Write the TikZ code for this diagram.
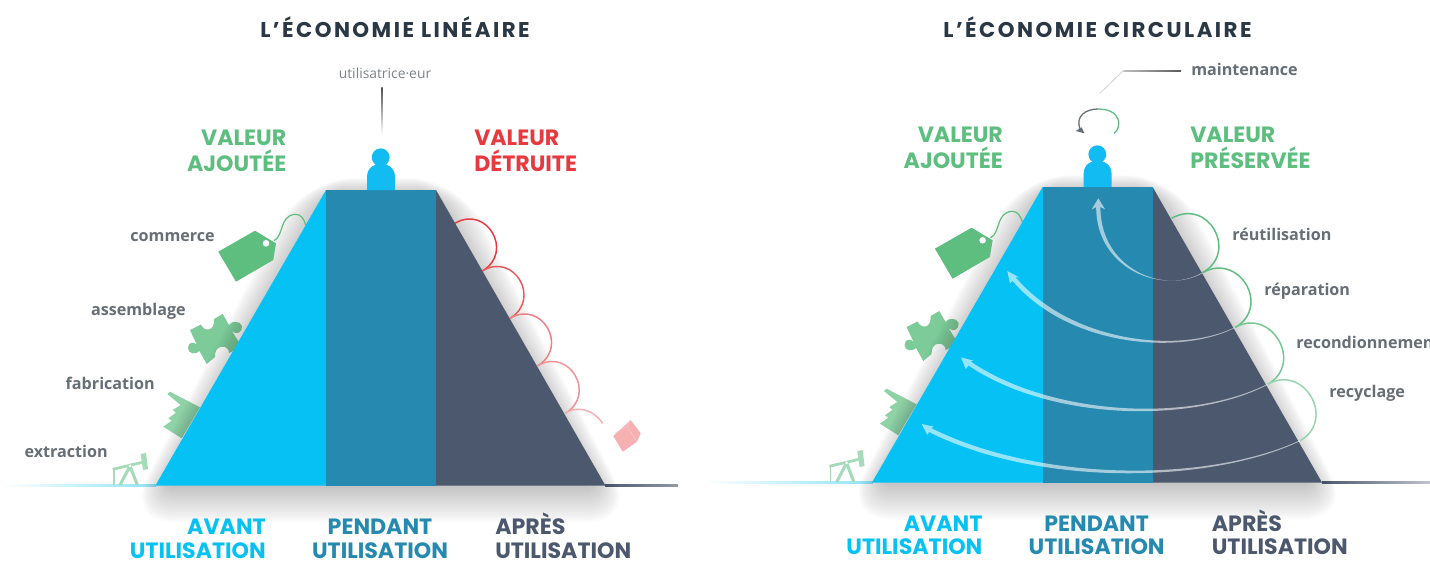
\documentclass[tikz,border=0pt]{standalone}
\usepackage{fontspec}
\setmainfont{Open Sans}
\newfontfamily\headf{Poppins}
\newfontfamily\titlef[LetterSpace=11.5]{Poppins}
\usetikzlibrary{calc}
\definecolor{cyanp}{HTML}{06C1F4}
\definecolor{tealp}{HTML}{268AB0}
\definecolor{darkp}{HTML}{4B586E}
\definecolor{personc}{HTML}{12BCF3}
\definecolor{greenv}{HTML}{5DBE7F}
\definecolor{redv}{HTML}{E8393F}
\definecolor{labelc}{HTML}{666E76}
\definecolor{titlec}{HTML}{2A3744}
\tikzset{
  titletext/.style={font=\titlef\bfseries\fontsize{16}{18}\selectfont,text=titlec,inner sep=0pt},
  headtext/.style={font=\headf\bfseries\fontsize{16.6}{19}\selectfont,inner sep=0pt},
  foottext/.style={font=\headf\bfseries\fontsize{16.6}{17.6}\selectfont,inner sep=0pt},
  steplabel/.style={font=\bfseries\fontsize{12.1}{14}\selectfont,text=labelc,inner sep=0pt},
  arrowbody/.style={fill=white,fill opacity=.58},
  shadowlayer/.style={fill=black!80,fill opacity=.017},
}
% tapered translucent arrow: start, c1, c2, notch, offset, barb+, tip, barb-
\newcommand{\taperarrow}[8]{%
  \fill[arrowbody] ($(#1)+.3*(#5)$) .. controls ($(#2)+.4*(#5)$) and ($(#3)+(#5)$) .. ($(#4)+(#5)$) -- (#6) -- (#7) -- (#8)
    -- ($(#4)-(#5)$) .. controls ($(#3)-(#5)$) and ($(#2)-.4*(#5)$) .. ($(#1)-.3*(#5)$) -- cycle;}
\newcommand{\pyramid}[1]{%
  % icons that the shadow falls on
  \fill[greenv!80!white] (190,330) -- (201,324.5) .. controls (204,332) and (215,332) .. (214,319) -- (222.7,314) -- (229,325)
     .. controls (231,321) and (240,320) .. (242,326) .. controls (243,332) and (236,336) .. (232,331)
     -- (241.7,346.7) -- (229,353) .. controls (229,344) and (214,344) .. (215,357) -- (206.7,364) -- (199.5,351)
     .. controls (196,355) and (188,354) .. (188,348) .. controls (188,342) and (194,341) .. (197,345) -- cycle;
  \fill[greenv!70!white] (167.3,394) -- (170,391.7) -- (200,407.3) -- (181.7,438.3) -- (163.3,426.7) -- (171.7,420.7) -- (168.3,418.3) -- (176,412.7) -- (172.7,410) -- (180.7,405) -- cycle;
  \draw[greenv!55!white,line width=2.1pt] (112.7,469.3) -- (145,461.7);
  \fill[greenv!55!white] (140.7,454) -- (146,453) -- (148,469) -- (143,470) -- cycle;
  \draw[greenv!55!white,line width=2.3pt] (130,466) -- (120,485) (130,466) -- (137.3,485);
  \draw[greenv!55!white,line width=.9pt] (114,470) -- (114,485);
  \fill[white] (130,466) circle[radius=1.6];
  % soft shadow
  \foreach \e [evaluate=\e as \r using .8*\e+4] in {0,2,...,42}{
    \fill[shadowlayer,rounded corners=\r pt] ($(170,480)+(-1.1*\e,\e)$) -- ($(333,197)+(-.7*\e,-.45*\e)$) -- ($(429,197)+(.7*\e,-.45*\e)$) -- ($(591,480)+(1.1*\e,\e)$) -- cycle;
  }
  % price tag, clear of the shadow
  \fill[greenv] (218.3,251.7) -- (255,230.7) -- (276,243.3) -- (273.3,260) -- (236,281.7) -- cycle;
  \fill[white] (266,243.3) circle[radius=3.3];
  \draw[greenv,line width=.9pt] (274,240.7) .. controls (284,236) and (279,216) .. (295,214.3) .. controls (301,214) and (304,219) .. (305.7,225);
  % pyramid
  \coordinate (#1bl) at (155.3,485.7);
  \coordinate (#1tl) at (326,190);
  \coordinate (#1tr) at (436,190);
  \coordinate (#1br) at (605.5,485.7);
  \fill[cyanp] (#1bl) -- (#1tl) -- (327,190) -- (327,485.7) -- cycle;
  \fill[darkp] (435,190) -- (#1tr) -- (#1br) -- (435,485.7) -- cycle;
  \fill[tealp] (#1tl) -- (#1tr) -- (436,485.7) -- (326,485.7) -- cycle;
  % person
  \node[circle,fill=personc,minimum size=13.4pt,inner sep=0pt] (#1head) at (380.7,157.3) {};
  \fill[personc] (367,190) -- (367,177) .. controls (367,159) and (395,159) .. (395,177) -- (395,190) -- cycle;
  % bottom labels
  \node[foottext,text=cyanp,align=right,anchor=base east] (#1avant) at (266,\bottomy) {AVANT\\UTILISATION};
  \node[foottext,text=tealp,align=center,anchor=base] (#1pendant) at (380,\bottomy) {PENDANT\\UTILISATION};
  \node[foottext,text=darkp,align=left,anchor=base west] (#1apres) at (495,\bottomy) {APRÈS\\UTILISATION};
  \node[headtext,text=greenv,align=right,anchor=base east] (#1ajout) at (286.5,171) {VALEUR\\AJOUTÉE};
}
\begin{document}
\begin{tikzpicture}[x=.75pt,y=-.75pt]
\useasboundingbox (0,0) rectangle (1430,561);
\fill[white] (0,0) rectangle (1430,561);
% ---- LEFT
\shade[left color=white,right color=cyanp!45!white] (0,484) rectangle (156,486);
\shade[left color=darkp,right color=darkp!60!white] (605,484) rectangle (678,486);
\def\bottomy{558}
\pyramid{a}
\node[titletext,anchor=base] (titleA) at (395,37.7) {L’ÉCONOMIE LINÉAIRE};
\node[font=\fontsize{10.4}{13}\selectfont,text=labelc!85!white,inner sep=0pt,anchor=base] (user) at (385,78.3) {utilisatrice·eur};
\coordinate (ua) at (382,87);
\coordinate (ub) at (382,134);
\shade[top color=black!70,bottom color=white] ($(ua)+(-.7,0)$) rectangle ($(ub)+(.7,0)$);
\node[headtext,text=redv,align=left,anchor=base west] (detruit) at (474,171) {VALEUR\\DÉTRUITE};
\node[steplabel,anchor=base east] (commerce) at (215,241) {commerce};
\node[steplabel,anchor=base east] (assemblage) at (186,315) {assemblage};
\node[steplabel,anchor=base east] (fabrication) at (155,389) {fabrication};
\node[steplabel,anchor=base east] (extraction) at (108,457.3) {extraction};
\coordinate (P0) at (455,223.3);
\coordinate (P1) at (482.6,270.8);
\coordinate (P2) at (510,318.3);
\coordinate (P3) at (537.6,365.8);
\coordinate (P4) at (565.3,413.3);
\coordinate (Pe) at (602.7,423.3);
\draw[line width=1.1pt,color=redv] (P0) .. controls ($(P0)+(31.6,-18.9)$) and ($(P1)+(31.6,-18.9)$) .. (P1);
\draw[line width=1.1pt,color=redv!85!white] (P1) .. controls ($(P1)+(31.6,-18.9)$) and ($(P2)+(31.6,-18.9)$) .. (P2);
\draw[line width=1.1pt,color=redv!65!white] (P2) .. controls ($(P2)+(31.6,-18.9)$) and ($(P3)+(31.6,-18.9)$) .. (P3);
\draw[line width=1.1pt,color=redv!55!white] (P3) .. controls ($(P3)+(31.6,-18.9)$) and ($(P4)+(31.6,-18.9)$) .. (P4);
\draw[line width=1.1pt,color=redv!40!white] (P4) .. controls (576,406) and (592,408) .. (Pe);
\fill[redv!40!white] (613.3,436) -- (630.7,420) -- (640.7,433.3) -- (637,441.7) -- (622.7,451.7) -- cycle;
\draw[redv!28!white,line width=.4pt] (626.7,426) -- (615,433.3) (626.7,426) -- (630.7,420) (626.7,426) -- (637,441.7);
% ---- RIGHT
\shade[left color=white,right color=cyanp!45!white] (703,481) rectangle (873,483);
\shade[left color=darkp,right color=darkp!35!white] (1322,481) rectangle (1430,483);
\begin{scope}[shift={(716.6,-3)}]
\def\bottomy{557.5}
\pyramid{b}
\end{scope}
\node[titletext,anchor=base] (titleB) at (1097.5,37.7) {L’ÉCONOMIE CIRCULAIRE};
\node[headtext,text=greenv,align=left,anchor=base west] (preserve) at (1190,168) {VALEUR\\PRÉSERVÉE};
\node[steplabel,anchor=base west] (maint) at (1191,75) {maintenance};
\coordinate (m1) at (1181,70.7);
\coordinate (m2) at (1123.3,70.7);
\coordinate (m3) at (1100,93.3);
\shade[left color=black!25,right color=black!65] ($(m2)+(0,-.6)$) rectangle ($(m1)+(0,.6)$);
\draw[black!18,line width=.6pt] (m2) -- (m3);
\coordinate (c0) at (1114,133.3);
\coordinate (c1) at (1098,109);
\coordinate (c2) at (1080,129);
\draw[greenv,line width=.95pt] (c0) .. controls (1122,128) and (1122,109) .. (c1);
\draw[labelc,line width=.95pt] (c1) .. controls (1086,109) and (1075,116) .. (c2);
\fill[labelc] (1075.7,131) -- (1081.7,127.3) -- (1084.3,133.3) -- cycle;
\node[steplabel,anchor=base west] (reut) at (1232,240) {réutilisation};
\node[steplabel,anchor=base west] (repa) at (1264,295) {réparation};
\node[steplabel,anchor=base west] (recond) at (1296,348.3) {recondionnement};
\node[steplabel,anchor=base west] (recy) at (1329,397.7) {recyclage};
\coordinate (Q0) at (1171.7,218.3);
\coordinate (Q1) at (1202.5,272.7);
\coordinate (Q2) at (1235,327.5);
\coordinate (Q3) at (1267.7,384.3);
\coordinate (Q4) at (1300,440.7);
% translucent arrows
\taperarrow{Q4}{1210,483}{1040,485}{930,430}{1,-2}{934,426.7}{921.7,424}{927.3,435}
\taperarrow{Q3}{1190,424}{1050,418}{969.5,363.5}{1,-2}{973.3,360.7}{961,357.3}{965.7,369}
\taperarrow{Q2}{1180,355}{1070,345}{1014,279}{1.5,-1.8}{1019,277.3}{1007.3,271}{1010,283.3}
\taperarrow{Q1}{1165,295}{1098,270}{1098.3,207}{2.1,0}{1105,209.3}{1098.3,198.3}{1091.7,209.3}
\draw[line width=1.1pt,color=greenv] (Q0) .. controls ($(Q0)+(36.5,-20.8)$) and ($(Q1)+(36.5,-20.8)$) .. (Q1);
\draw[line width=1.1pt,color=greenv] (Q1) .. controls ($(Q1)+(36.5,-20.8)$) and ($(Q2)+(36.5,-20.8)$) .. (Q2);
\draw[line width=1.1pt,color=greenv!85!white] (Q2) .. controls ($(Q2)+(36.5,-20.8)$) and ($(Q3)+(36.5,-20.8)$) .. (Q3);
\draw[line width=1.1pt,color=greenv!65!white] (Q3) .. controls ($(Q3)+(36.5,-20.8)$) and ($(Q4)+(36.5,-20.8)$) .. (Q4);
\end{tikzpicture}
\end{document}
